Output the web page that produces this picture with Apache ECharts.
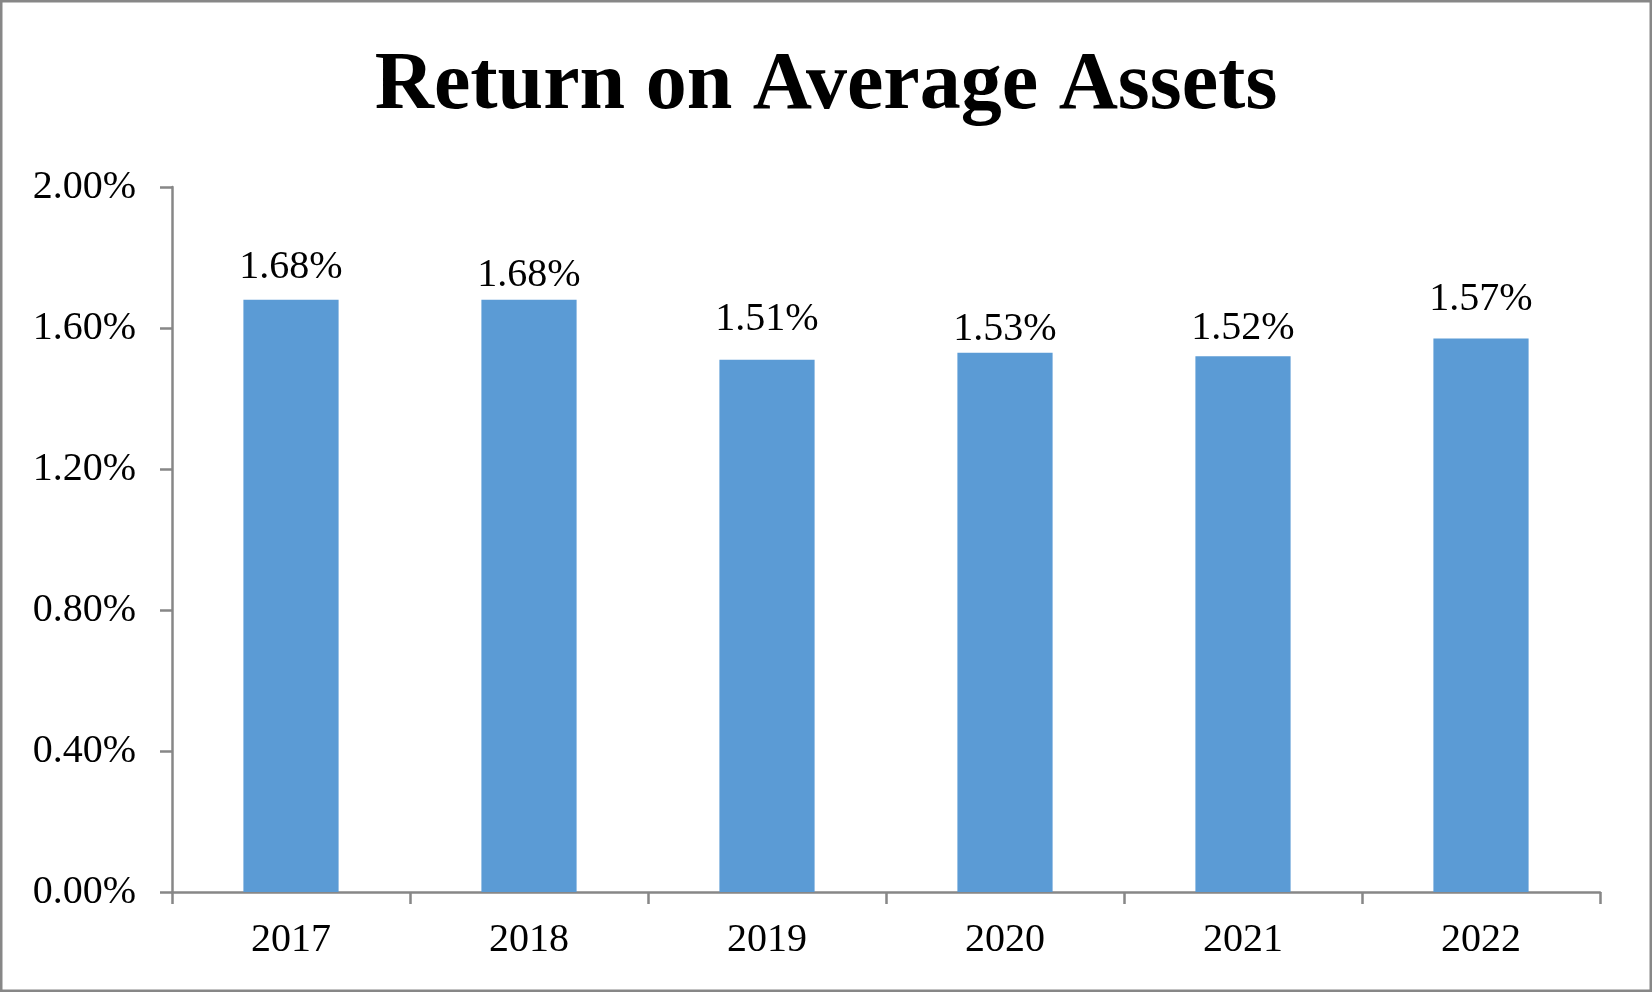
<!DOCTYPE html>
<html>
<head>
<meta charset="utf-8">
<script src="https://cdn.jsdelivr.net/npm/echarts@6/dist/echarts.min.js"></script>
<style>
  html, body { margin: 0; padding: 0; background: #ffffff; }
  #chart { width: 1652px; height: 992px; }
</style>
</head>
<body>
<div id="chart"></div>
<script>
const categories = ['2017', '2018', '2019', '2020', '2021', '2022'];
const roaValues = [1.68, 1.68, 1.51, 1.53, 1.52, 1.57];
const titleText = 'Return on Average Assets';
// label gap above each bar (style only)
const labelDistances = [12, 4, 20, 3, 8, 19];

const FONT = "'Liberation Serif', 'Times New Roman', serif";
const chart = echarts.init(document.getElementById('chart'), null, { renderer: 'canvas' });
chart.setOption({
  backgroundColor: '#ffffff',
  animation: false,
  title: {
    text: titleText,
    left: 'center',
    top: 41,
    textStyle: { fontFamily: FONT, fontSize: 82, fontWeight: 'bold', color: '#000000' }
  },
  graphic: [{
    type: 'rect',
    shape: { x: 1.25, y: 1.25, width: 1649.5, height: 989.5 },
    style: { fill: 'none', stroke: '#878787', lineWidth: 2.5 },
    silent: true
  }],
  grid: { left: 172, right: 52, top: 187, bottom: 100, containLabel: false },
  xAxis: {
    type: 'category',
    data: categories,
    axisLine: { lineStyle: { color: '#878787', width: 2.5 } },
    axisTick: { show: true, length: 12, alignWithLabel: false, lineStyle: { color: '#878787', width: 2.5 } },
    axisLabel: { fontFamily: FONT, fontSize: 40, color: '#000000', margin: 28 },
    splitLine: { show: false }
  },
  yAxis: {
    type: 'value',
    min: 0,
    max: 2,
    interval: 0.4,
    axisLine: { show: true, lineStyle: { color: '#878787', width: 2.5 } },
    axisTick: { show: true, length: 12, lineStyle: { color: '#878787', width: 2.5 } },
    axisLabel: {
      fontFamily: FONT, fontSize: 40, color: '#000000', margin: 36,
      formatter: v => v.toFixed(2) + '%'
    },
    splitLine: { show: false }
  },
  series: [{
    type: 'bar',
    data: roaValues.map((v, i) => ({ value: v, label: { distance: labelDistances[i] } })),
    barWidth: '40%',
    itemStyle: { color: '#5B9BD5' },
    label: {
      show: true,
      position: 'top',
      fontFamily: FONT,
      fontSize: 40,
      color: '#000000',
      formatter: p => p.value.toFixed(2) + '%'
    }
  }]
});
</script>
</body>
</html>
